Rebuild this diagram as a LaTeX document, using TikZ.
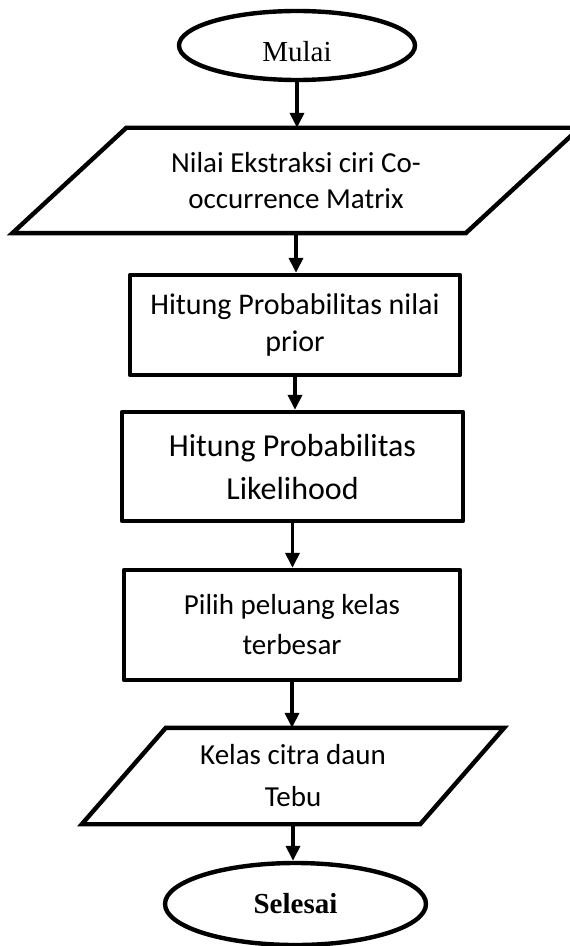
\documentclass[tikz,border=0pt]{standalone}
\usepackage{fontspec}
\setmainfont{Carlito}
\newfontfamily\flowserif{Liberation Serif}
\usetikzlibrary{shapes.geometric,arrows.meta}

\begin{document}
\begin{tikzpicture}[x=0.5pt, y=-0.5pt, >={Triangle[width=7pt,length=7.5pt]},
    terminal/.style={draw, ellipse, line width=2.2pt, inner sep=0pt},
    process/.style={draw, rectangle, line width=2.2pt, line join=round, inner sep=0pt, align=center},
    dataio/.style={rectangle, inner sep=0pt, outer sep=1.1pt, align=center},
    slantbox/.style={line width=2.2pt, line join=miter},
    flow/.style={->, line width=1.8pt}]
    \useasboundingbox (0,0) rectangle (569,946);

    \node[terminal, minimum width=118pt, minimum height=34.5pt, text height=15.6pt, text depth=0pt,
        font=\flowserif\fontsize{14.5}{17}\selectfont]
        (mulai) at (297,45.5) {Mulai};

    \node[dataio, minimum width=224.5pt, minimum height=50.5pt,
        font=\fontsize{14.5}{18}\selectfont]
        (ekstraksi) at (296,180.5) {Nilai Ekstraksi ciri Co-\\occurrence Matrix};
    \draw[slantbox] ([xshift=28.5pt]ekstraksi.north west) -- ([xshift=28.5pt]ekstraksi.north east)
        -- ([xshift=-28.5pt]ekstraksi.south east) -- ([xshift=-28.5pt]ekstraksi.south west) -- cycle;

    \node[process, minimum width=165pt, minimum height=50pt,
        font=\fontsize{15}{18.5}\selectfont]
        (prior) at (295,325) {Hitung Probabilitas nilai\\prior};

    \node[process, minimum width=170.5pt, minimum height=54.5pt,
        font=\fontsize{16}{21.5}\selectfont]
        (likelihood) at (292.5,466.5) {Hitung Probabilitas\\Likelihood};

    \node[process, minimum width=168pt, minimum height=55pt,
        font=\fontsize{14.5}{20}\selectfont]
        (peluang) at (292,625) {Pilih peluang kelas\\terbesar};

    \node[dataio, minimum width=167pt, minimum height=46pt,
        font=\fontsize{14.5}{21}\selectfont]
        (kelas) at (293,776) {Kelas citra daun\\Tebu};
    \draw[slantbox] ([xshift=21pt]kelas.north west) -- ([xshift=21pt]kelas.north east)
        -- ([xshift=-21pt]kelas.south east) -- ([xshift=-21pt]kelas.south west) -- cycle;

    \node[terminal, minimum width=130.5pt, minimum height=41pt,
        font=\flowserif\bfseries\fontsize{14.5}{17}\selectfont]
        (selesai) at (295.5,904) {Selesai};

    \draw[flow] (mulai.south) -- (mulai.south |- ekstraksi.north);
    \draw[flow] (ekstraksi.south) -- (ekstraksi.south |- prior.north);
    \draw[flow] (prior.south) -- (prior.south |- likelihood.north);
    \draw[flow] (likelihood.south) -- (likelihood.south |- peluang.north);
    \draw[flow] (peluang.south) -- (peluang.south |- kelas.north);
    \draw[flow] (kelas.south) -- (kelas.south |- selesai.north);
\end{tikzpicture}
\end{document}
